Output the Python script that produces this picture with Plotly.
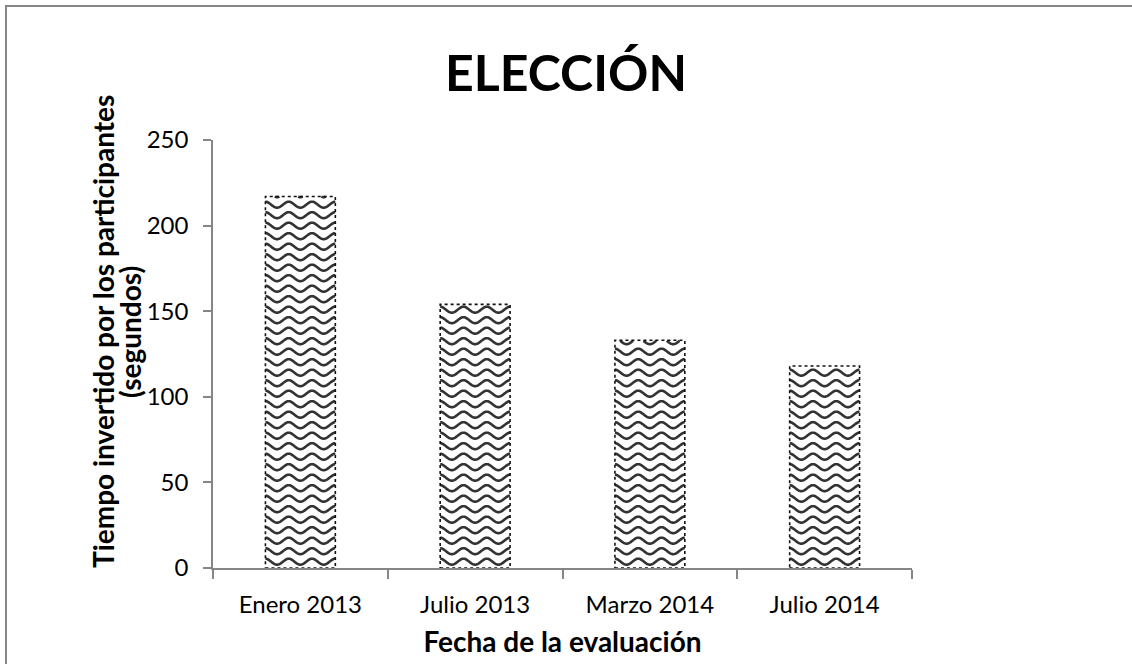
import numpy as np
import plotly.graph_objects as go

# Data
categories = ["Enero 2013", "Julio 2013", "Marzo 2014", "Julio 2014"]
tiempos = [217, 154, 133, 118]
y_tickvals = [0, 50, 100, 150, 200, 250]

W, H = 1132, 664
M_L, M_R, M_T, M_B = 213, 220, 140, 96
plot_w = W - M_L - M_R
plot_h = H - M_T - M_B
Y_MAX = 250
BAR_W = 0.4
AXIS_GREY = "#868686"
FONT = "Lato"
TICK_SIZE = 24
LABEL_SIZE = 28

px_per_unit = plot_h / Y_MAX

fig = go.Figure()

# White bar bodies
fig.add_trace(go.Bar(
    x=categories, y=tiempos, width=BAR_W,
    marker=dict(color="white", line=dict(width=0)),
    hoverinfo="x+y", showlegend=False,
))

# Wavy hatching inside each bar (pattern tiled from the baseline)
row_step = 10.5 / px_per_unit          # vertical spacing between waves
amp = 3.0 / px_per_unit                # wave amplitude
period = BAR_W / 3                     # three waves across a bar
wx, wy = [], []
for i, v in enumerate(tiempos):
    x0 = i - BAR_W / 2
    xs = np.linspace(x0, x0 + BAR_W, 121)
    base = row_step * 0.6
    while base - amp < v:
        ys = base + amp * np.sin(2 * np.pi * (xs - x0) / period + np.pi / 2)
        for xv, yv in zip(xs, ys):
            if 0 <= yv <= v:
                wx.append(xv)
                wy.append(yv)
            else:
                wx.append(None)
                wy.append(None)
        wx.append(None)
        wy.append(None)
        base += row_step
fig.add_trace(go.Scatter(
    x=wx, y=wy, xaxis="x2", mode="lines",
    line=dict(color="#333333", width=2.6, shape="spline"),
    hoverinfo="skip", showlegend=False, connectgaps=False,
))

# Dotted outline of each bar
ox, oy = [], []
for i, v in enumerate(tiempos):
    a, b = i - BAR_W / 2, i + BAR_W / 2
    ox += [a, b, b, a, a, None]
    oy += [0, 0, v, v, 0, None]
fig.add_trace(go.Scatter(
    x=ox, y=oy, xaxis="x2", mode="lines",
    line=dict(color="#111111", width=1.6, dash="dot"),
    hoverinfo="skip", showlegend=False,
))

fig.update_layout(
    width=W, height=H,
    margin=dict(l=M_L, r=M_R, t=M_T, b=M_B),
    paper_bgcolor="white", plot_bgcolor="white",
    font=dict(family=FONT, color="black"),
    title=dict(
        text="<b>ELECCIÓN</b>", x=0.5, xref="container", xanchor="center",
        y=1 - 73 / H, yref="container", yanchor="middle",
        font=dict(family=FONT, size=50, color="black"),
    ),
    xaxis=dict(
        type="category", range=[-0.5, len(categories) - 0.5],
        tickson="boundaries", ticks="outside", ticklen=9,
        tickcolor=AXIS_GREY, tickwidth=1.5,
        showline=True, linecolor=AXIS_GREY, linewidth=1.5,
        showgrid=False, zeroline=False,
        tickfont=dict(size=TICK_SIZE, family=FONT, color="black"),
        ticklabelstandoff=14,
        title=dict(text="<b>Fecha de la evaluación</b>", standoff=16,
                   font=dict(size=LABEL_SIZE, family=FONT, color="black")),
    ),
    xaxis2=dict(
        overlaying="x", range=[-0.5, len(categories) - 0.5],
        visible=False, fixedrange=True,
    ),
    yaxis=dict(
        range=[0, Y_MAX], tickvals=y_tickvals,
        ticks="outside", ticklen=8, tickcolor=AXIS_GREY, tickwidth=1.5,
        showline=True, linecolor=AXIS_GREY, linewidth=1.5,
        showgrid=False, zeroline=False,
        tickfont=dict(size=TICK_SIZE, family=FONT, color="black"),
        ticklabelstandoff=10,
    ),
    bargap=0.6,
)

# Rotated y-axis title, one annotation per line
y_mid = (H - M_B - 332) / plot_h
for text, xc in [("<b>Tiempo invertido por los participantes</b>", 103),
                 ("<b>(segundos)</b>", 130)]:
    fig.add_annotation(
        text=text, textangle=-90, xref="paper", yref="paper",
        x=(xc - M_L) / plot_w, y=y_mid, xanchor="center", yanchor="middle",
        showarrow=False,
        font=dict(size=LABEL_SIZE, family=FONT, color="black"),
    )

# Chart-area frame
fig.add_shape(
    type="rect", xref="paper", yref="paper",
    x0=(6 - M_L) / plot_w, x1=(W + 10 - M_L) / plot_w,
    y0=(H - M_B - (H + 10)) / plot_h, y1=(H - M_B - 6) / plot_h,
    line=dict(color=AXIS_GREY, width=2), fillcolor="rgba(0,0,0,0)",
    layer="below",
)

fig.write_html("out.html")
